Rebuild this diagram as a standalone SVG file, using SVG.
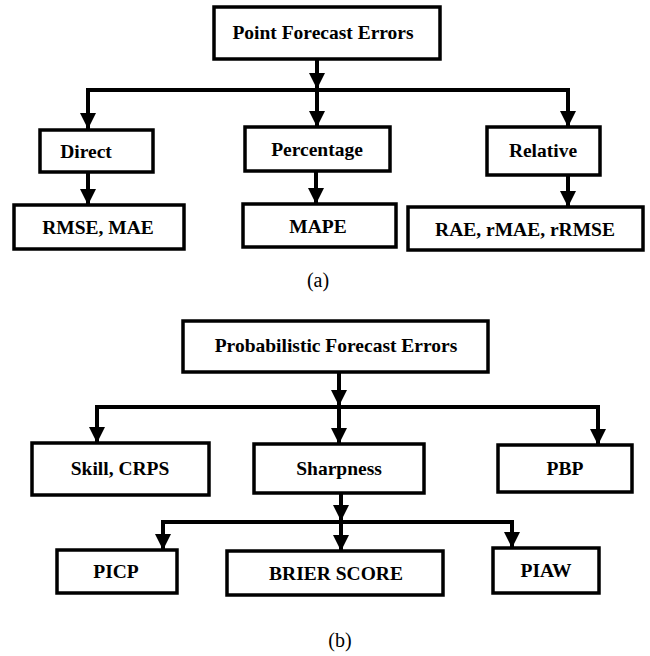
<svg xmlns="http://www.w3.org/2000/svg" width="650" height="656" viewBox="0 0 650 656">
  <style>
    .box { fill: #ffffff; stroke: #000000; stroke-width: 3.5; }
    .wire { fill: none; stroke: #000000; stroke-width: 4; }
    .arr { fill: none; stroke: #000000; stroke-width: 4; marker-end: url(#head); }
    .lbl { font-family: 'Liberation Serif', 'DejaVu Serif', serif; font-weight: 700; font-size: 19.5px; text-anchor: middle; fill: #000000; }
    .cap { font-family: 'Liberation Serif', 'DejaVu Serif', serif; font-weight: 400; font-size: 20px; text-anchor: middle; fill: #000000; }
  </style>
  <defs>
    <marker id="head" markerUnits="userSpaceOnUse" markerWidth="16" markerHeight="16" viewBox="0 0 16 16" refX="16" refY="8" orient="auto">
      <path d="M0,0 L16,8 L0,16 z" fill="#000000"/>
    </marker>
  </defs>
  <rect width="650" height="656" fill="#ffffff"/>

  <g id="connectors">
    <!-- (a) point forecast tree -->
    <path class="arr" d="M317,59 V89"/>
    <path class="wire" d="M86,90 H570"/>
    <path class="arr" d="M88,88 V129"/>
    <path class="arr" d="M317,90 V127"/>
    <path class="arr" d="M568,88 V127"/>
    <path class="arr" d="M88,172 V205"/>
    <path class="arr" d="M316,171 V204"/>
    <path class="arr" d="M568,175 V207"/>
    <!-- (b) probabilistic forecast tree -->
    <path class="arr" d="M339,372 V406"/>
    <path class="wire" d="M95,407 H600"/>
    <path class="arr" d="M97,405 V443"/>
    <path class="arr" d="M339,407 V444"/>
    <path class="arr" d="M598,405 V445"/>
    <path class="arr" d="M341,493 V521"/>
    <path class="wire" d="M161,522 H514"/>
    <path class="arr" d="M163,520 V550"/>
    <path class="arr" d="M341,522 V551"/>
    <path class="arr" d="M512,520 V548"/>
  </g>

  <g id="point-errors">
    <rect class="box" x="214" y="7" width="226" height="52"/>
    <text class="lbl" x="323" y="39">Point Forecast Errors</text>
  </g>
  <g id="direct">
    <rect class="box" x="40" y="130" width="113" height="42"/>
    <text class="lbl" x="86" y="158">Direct</text>
  </g>
  <g id="percentage">
    <rect class="box" x="245" y="127" width="145" height="44"/>
    <text class="lbl" x="317" y="156">Percentage</text>
  </g>
  <g id="relative">
    <rect class="box" x="487" y="127" width="113" height="48"/>
    <text class="lbl" x="543" y="157">Relative</text>
  </g>
  <g id="rmse-mae">
    <rect class="box" x="14" y="205" width="170" height="44"/>
    <text class="lbl" x="98" y="234">RMSE, MAE</text>
  </g>
  <g id="mape">
    <rect class="box" x="243" y="204" width="153" height="43"/>
    <text class="lbl" x="318" y="233">MAPE</text>
  </g>
  <g id="rae">
    <rect class="box" x="408" y="207" width="235" height="43"/>
    <text class="lbl" x="525" y="236">RAE, rMAE, rRMSE</text>
  </g>
  <text class="cap" x="318" y="287">(a)</text>

  <g id="prob-errors">
    <rect class="box" x="183" y="321" width="305" height="51"/>
    <text class="lbl" x="336" y="352">Probabilistic Forecast Errors</text>
  </g>
  <g id="skill-crps">
    <rect class="box" x="32" y="443" width="177" height="52"/>
    <text class="lbl" x="120" y="475">Skill, CRPS</text>
  </g>
  <g id="sharpness">
    <rect class="box" x="254" y="444" width="170" height="49"/>
    <text class="lbl" x="339" y="475">Sharpness</text>
  </g>
  <g id="pbp">
    <rect class="box" x="498" y="445" width="134" height="47"/>
    <text class="lbl" x="565" y="475">PBP</text>
  </g>
  <g id="picp">
    <rect class="box" x="57" y="550" width="120" height="43"/>
    <text class="lbl" x="116" y="578">PICP</text>
  </g>
  <g id="brier">
    <rect class="box" x="227" y="551" width="216" height="44"/>
    <text class="lbl" x="336" y="580">BRIER SCORE</text>
  </g>
  <g id="piaw">
    <rect class="box" x="493" y="548" width="106" height="45"/>
    <text class="lbl" x="546" y="577">PIAW</text>
  </g>
  <text class="cap" x="340" y="647">(b)</text>
</svg>
